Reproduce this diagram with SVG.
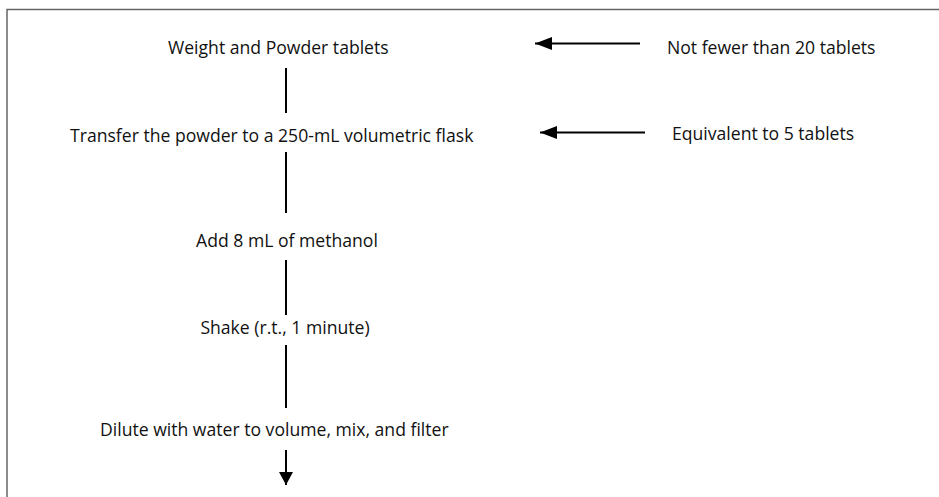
<svg xmlns="http://www.w3.org/2000/svg" width="939" height="497" viewBox="0 0 939 497">
<defs>
<style>
text{font-family:"Open Sans","Noto Sans","Liberation Sans",sans-serif;font-size:17.6px;fill:#111}
.c{text-anchor:middle}
.ln{stroke:#000;stroke-width:2;fill:none}
</style>
<marker id="ah2" viewBox="0 0 10 10" refX="10" refY="5" markerWidth="17" markerHeight="13" markerUnits="userSpaceOnUse" orient="auto" preserveAspectRatio="none">
<path d="M0,0 L10,5 L0,10 Z" fill="#000"/>
</marker>
<marker id="ah3" viewBox="0 0 10 10" refX="10" refY="5" markerWidth="13" markerHeight="14" markerUnits="userSpaceOnUse" orient="auto" preserveAspectRatio="none">
<path d="M0,0 L10,5 L0,10 Z" fill="#000"/>
</marker>
</defs>
<rect x="0" y="0" width="939" height="497" fill="#fff"/>
<path d="M7,497 V9.5 H939" stroke="#666" stroke-width="1.5" fill="none"/>
<g id="n1"><text x="168" y="54">Weight and Powder tablets</text></g>
<g id="n2"><text x="70" y="141.5">Transfer the powder to a 250-mL volumetric flask</text></g>
<g id="n3"><text class="c" x="287" y="247">Add 8 mL of methanol</text></g>
<g id="n4"><text class="c" x="285" y="334">Shake (r.t., 1 minute)</text></g>
<g id="n5"><text x="100" y="436">Dilute with water to volume, mix, and filter</text></g>
<g id="n6"><text x="667" y="54">Not fewer than 20 tablets</text></g>
<g id="n7"><text x="672" y="140">Equivalent to 5 tablets</text></g>
<g id="connectors">
<line class="ln" x1="286" y1="68" x2="286" y2="113"/>
<line class="ln" x1="286" y1="152" x2="286" y2="213"/>
<line class="ln" x1="286" y1="260" x2="286" y2="315"/>
<line class="ln" x1="286" y1="345" x2="286" y2="408"/>
<line class="ln" x1="286" y1="450" x2="286" y2="485" marker-end="url(#ah3)"/>
<line class="ln" x1="640" y1="43.5" x2="535" y2="43.5" marker-end="url(#ah2)"/>
<line class="ln" x1="645" y1="132.5" x2="540" y2="132.5" marker-end="url(#ah2)"/>
</g>
</svg>
